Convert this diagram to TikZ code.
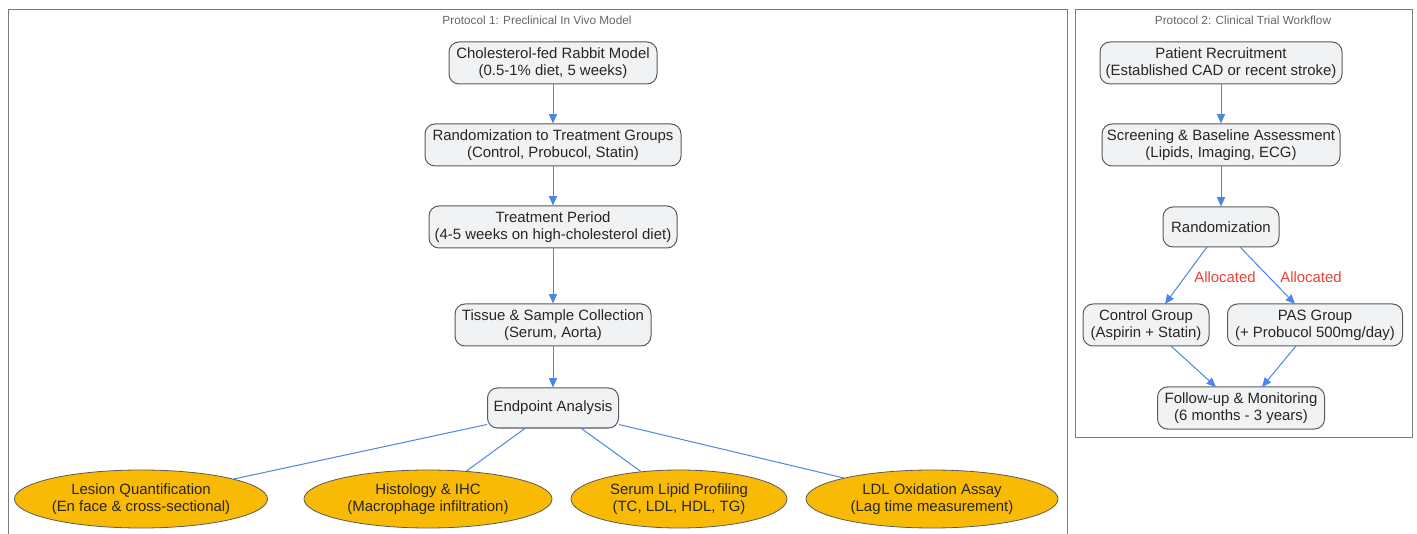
\documentclass[tikz,border=0pt]{standalone}
\usepackage{fontspec}
\setmainfont{Liberation Sans}
\usetikzlibrary{arrows.meta,shapes.geometric}
\definecolor{boxfill}{HTML}{F1F2F4}
\definecolor{boxdraw}{HTML}{5A5A5A}
\definecolor{ellfill}{HTML}{F9BA06}
\definecolor{edgeblue}{HTML}{4A86E8}
\definecolor{lblred}{HTML}{EA4335}
\definecolor{titlegray}{HTML}{666666}
\definecolor{clusterdraw}{HTML}{7A7A7A}
\tikzset{
  pbox/.style={draw=boxdraw, fill=boxfill, rounded corners=7.5pt, line width=0.75pt,
    align=center, font=\fontsize{11.2}{12.75}\selectfont, text=black!85, inner sep=0pt, minimum height=31.5pt},
  pell/.style={ellipse, draw=boxdraw, fill=ellfill, line width=0.6pt,
    align=center, font=\fontsize{11.2}{12.75}\selectfont, text=black!85, inner sep=0pt, minimum height=43.5pt},
  flow/.style={draw=edgeblue, line width=0.75pt, -{Triangle[length=7pt,width=6pt]}},
  plain/.style={draw=edgeblue, line width=0.75pt},
  cluster/.style={draw=clusterdraw, line width=0.75pt},
  ctitle/.style={font=\fontsize{8.85}{10}\selectfont, text=titlegray},
  alloc/.style={font=\fontsize{11.2}{12}\selectfont, text=lblred}
}
\begin{document}
\begin{tikzpicture}[x=0.75pt,y=-0.75pt]
\useasboundingbox (0,0) rectangle (1417,534);
\clip (0,0) rectangle (1417,534);
\fill[white] (0,0) rectangle (1417,534);
% clusters
\draw[cluster] (8,10) rectangle (1067,560);
\node[ctitle] (t1) at (537,20) {Protocol 1: Preclinical In Vivo Model};
\draw[cluster] (1075,10) rectangle (1412,437);
\node[ctitle] (t2) at (1243,20) {Protocol 2: Clinical Trial Workflow};
% left nodes
\node[pbox, minimum width=156pt] (n1) at (553,63) {Cholesterol-fed Rabbit Model\\(0.5-1\% diet, 5 weeks)};
\node[pbox, minimum width=192pt] (n2) at (553,145) {Randomization to Treatment Groups\\(Control, Probucol, Statin)};
\node[pbox, minimum width=186pt] (n3) at (553,227) {Treatment Period\\(4-5 weeks on high-cholesterol diet)};
\node[pbox, minimum width=147pt] (n4) at (553,325) {Tissue \& Sample Collection\\(Serum, Aorta)};
\node[pbox, minimum width=98.25pt, minimum height=30pt] (n5) at (553,408) {Endpoint Analysis};
\node[pell, minimum width=189.75pt] (e1) at (141,499) {Lesion Quantification\\(En face \& cross-sectional)};
\node[pell, minimum width=186pt] (e2) at (428,499) {Histology \& IHC\\(Macrophage infiltration)};
\node[pell, minimum width=162pt] (e3) at (679,499) {Serum Lipid Profiling\\(TC, LDL, HDL, TG)};
\node[pell, minimum width=189pt] (e4) at (932,499) {LDL Oxidation Assay\\(Lag time measurement)};
\draw[flow] (n1) -- (n2);
\draw[flow] (n2) -- (n3);
\draw[flow] (n3) -- (n4);
\draw[flow] (n4) -- (n5);
\draw[plain] (n5.south west) ++(0,-4) -- (e1);
\draw[plain] (n5) -- (e2);
\draw[plain] (n5) -- (e3);
\draw[plain] (n5.south east) ++(0,-4) -- (e4);
% right nodes
\node[pbox, minimum width=181.5pt] (p1) at (1221,63) {Patient Recruitment\\(Established CAD or recent stroke)};
\node[pbox, minimum width=178.5pt] (p2) at (1221,145) {Screening \& Baseline Assessment\\(Lipids, Imaging, ECG)};
\node[pbox, minimum width=87pt, minimum height=30pt] (p3) at (1221,227) {Randomization};
\node[pbox, minimum width=94.5pt] (p4) at (1146,325) {Control Group\\(Aspirin + Statin)};
\node[pbox, minimum width=131.25pt] (p5) at (1315,325) {PAS Group\\(+ Probucol 500mg/day)};
\node[pbox, minimum width=125.25pt] (p6) at (1241,408) {Follow-up \& Monitoring\\(6 months - 3 years)};
\draw[flow] (p1) -- (p2);
\draw[flow] (p2) -- (p3);
\coordinate (p3l) at (1207,247);
\coordinate (p3r) at (1240,247);
\coordinate (p4t) at (1165,304);
\coordinate (p5t) at (1295,304);
\coordinate (p4b) at (1171,346);
\coordinate (p5b) at (1296,346);
\coordinate (p6l) at (1216,387);
\coordinate (p6r) at (1262,387);
\draw[flow] (p3l) -- (p4t);
\draw[flow] (p3r) -- (p5t);
\draw[flow] (p4b) -- (p6l);
\draw[flow] (p5b) -- (p6r);
\node[alloc] (a1) at (1225,277) {Allocated};
\node[alloc] (a2) at (1311,277) {Allocated};
\end{tikzpicture}
\end{document}
